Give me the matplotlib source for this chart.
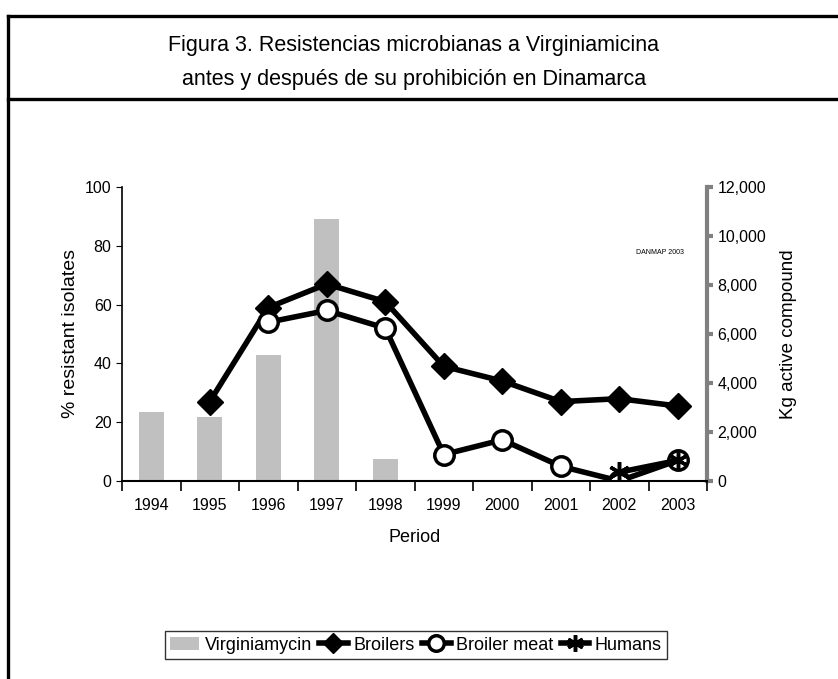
import matplotlib.pyplot as plt
import numpy as np
from matplotlib.lines import Line2D

plt.rcParams['font.family'] = ['Liberation Sans Narrow', 'Liberation Sans', 'DejaVu Sans']

years = ['1994', '1995', '1996', '1997', '1998', '1999', '2000', '2001', '2002', '2003']
virginiamycin = [2800, 2600, 5150, 10680, 900, 0, 0, 0, 0, 0]
broilers = [np.nan, 27, 59, 67, 61, 39, 34, 27, 28, 25.5]
broiler_meat = [np.nan, np.nan, 54, 58, 52, 9, 14, 5, 0, 7]
humans = [np.nan, np.nan, np.nan, np.nan, np.nan, np.nan, np.nan, np.nan, 3, 7]

x = np.arange(len(years))

fig = plt.figure(figsize=(8.38, 6.79), dpi=100)

# frame around the figure and title box
W, H = 838, 679
def fl(x0, y0, x1, y1):
    fig.add_artist(Line2D([x0 / W, x1 / W], [1 - y0 / H, 1 - y1 / H], color='black', lw=2.4))
fl(8, 16, 838, 16)
fl(8, 16, 8, 679)
fl(8, 99, 838, 99)
fig.text(0.494, 1 - 46 / H, 'Figura 3. Resistencias microbianas a Virginiamicina',
         ha='center', va='center', fontsize=15.5)
fig.text(0.494, 1 - 79 / H, 'antes y después de su prohibición en Dinamarca',
         ha='center', va='center', fontsize=15.5)

ax = fig.add_axes([122 / W, 1 - 481 / H, (707 - 122) / W, (481 - 187) / H])
ax2 = ax.twinx()
ax.set_zorder(ax2.get_zorder() + 1)
ax.patch.set_visible(False)

ax2.bar(x, virginiamycin, width=0.43, color='#c0c0c0', label='Virginiamycin')
ax2.set_ylim(0, 12000)
ax2.set_yticks(range(0, 12001, 2000))
ax2.set_yticklabels(['0', '2,000', '4,000', '6,000', '8,000', '10,000', '12,000'], fontsize=11.5)
ax2.set_ylabel('Kg active compound', fontsize=13.5, labelpad=10)

ax.plot(x, broilers, color='black', lw=4, marker='D', ms=13, mfc='black', label='Broilers')
ax.plot(x, broiler_meat, color='black', lw=4, marker='o', ms=14, mfc='white', mew=2.5, label='Broiler meat')
ax.plot(x, humans, color='black', lw=4, marker=(6, 2, 0), ms=15, mew=2.5, label='Humans')
ax.set_ylim(0, 100)
ax.set_xlim(-0.5, 9.5)
ax.set_yticks(range(0, 101, 20))
ax.tick_params(axis='y', labelsize=11.5, length=4)
ax.set_ylabel('% resistant isolates', fontsize=14, labelpad=4)
ax.set_xticks(x)
ax.set_xticklabels(years, fontsize=11.5)
ax.set_xticks(np.arange(-0.5, 10, 1), minor=True)
ax.tick_params(axis='x', which='major', length=0, pad=12)
ax.tick_params(axis='x', which='minor', length=7, width=1.2)
ax.set_xlabel('Period', fontsize=13, labelpad=12)

for a in (ax, ax2):
    a.spines['top'].set_visible(False)
ax.spines['right'].set_visible(False)
ax2.spines['left'].set_visible(False)
ax2.spines['bottom'].set_visible(False)
ax.spines['left'].set_linewidth(1.2)
ax.spines['bottom'].set_linewidth(1.5)
ax2.spines['right'].set_color('#808080')
ax2.spines['right'].set_linewidth(3)
ax2.tick_params(axis='y', colors='#808080', length=4, width=3, labelcolor='black')

fig.text(660 / W, 1 - 252 / H, 'DANMAP 2003', fontsize=5, ha='center', va='center')

h1, l1 = ax2.get_legend_handles_labels()
h2, l2 = ax.get_legend_handles_labels()
fig.legend(h1 + h2, l1 + l2, loc='center', bbox_to_anchor=(416 / W, 1 - 645 / H),
           ncol=4, fontsize=13, frameon=True, fancybox=False, edgecolor='black',
           handlelength=1.6, handletextpad=0.3, columnspacing=0.4, borderpad=0.3,
           markerscale=0.8)

plt.savefig('out.png', dpi=100)
